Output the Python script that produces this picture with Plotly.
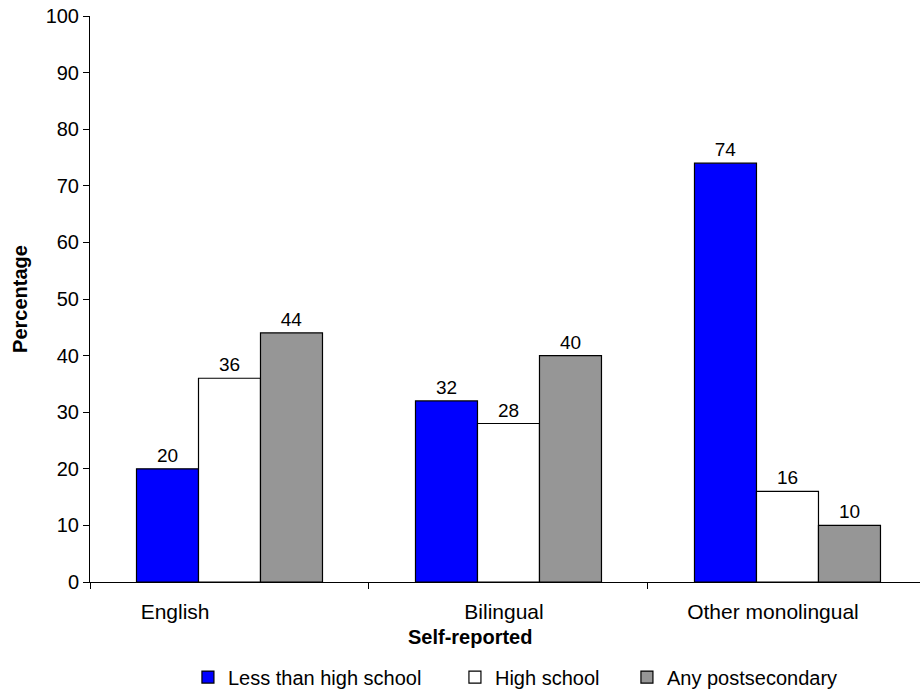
import plotly.graph_objects as go

# Language groups (self-reported) and share of each education level, in percent
categories = ["English", "Bilingual", "Other monolingual"]
less_than_high_school = [20, 32, 74]
high_school = [36, 28, 16]
any_postsecondary = [44, 40, 10]

series_names = ["Less than high school", "High school", "Any postsecondary"]
series_colors = ["#0000FF", "#FFFFFF", "#969696"]
series_values = [less_than_high_school, high_school, any_postsecondary]
legend_widths = [222, 127, None]

y_ticks = list(range(0, 101, 10))

# Category label positions along the numeric x scale (groups sit at 0, 1, 2)
label_positions = [-0.195, 0.984, 1.948]
divider_positions = [-0.5, 0.5, 1.5, 2.5]

FONT = "Liberation Sans, Arial, Helvetica, sans-serif"

fig = go.Figure()
x_idx = list(range(len(categories)))
for name, color, vals, lw in zip(series_names, series_colors, series_values, legend_widths):
    fig.add_trace(go.Bar(
        x=x_idx, y=vals, name=name,
        marker=dict(color=color, line=dict(color="black", width=1.2)),
        text=vals, texttemplate="%{y}", textposition="outside",
        textfont=dict(size=19, color="black", family=FONT),
        cliponaxis=False,
        legendwidth=lw,
    ))

# Invisible carrier so the category-label axis gets drawn
fig.add_trace(go.Scatter(
    x=label_positions, y=[0] * len(label_positions), xaxis="x2", yaxis="y",
    mode="markers", marker=dict(opacity=0), showlegend=False, hoverinfo="skip",
))

fig.update_layout(
    width=920, height=690,
    margin=dict(l=90, r=0, t=16, b=108, autoexpand=False),
    paper_bgcolor="white", plot_bgcolor="white",
    font=dict(family=FONT, size=20, color="black"),
    barmode="group", bargap=1/3, bargroupgap=0,
    showlegend=True,
    legend=dict(
        orientation="h", x=0.118, xanchor="left", y=-0.168, yanchor="middle",
        bgcolor="rgba(0,0,0,0)", font=dict(size=20, family=FONT, color="black"),
        traceorder="normal",
    ),
    xaxis=dict(
        range=[-0.5, 2.475], tickvals=divider_positions, ticktext=[""] * 4,
        ticks="outside", ticklen=6, tickcolor="black",
        showline=True, linecolor="black", linewidth=1,
        showgrid=False, zeroline=False,
    ),
    xaxis2=dict(
        overlaying="x", anchor="y", side="bottom", matches="x",
        tickvals=label_positions, ticktext=categories, ticks="",
        showline=False, showgrid=False, zeroline=False,
        tickfont=dict(size=21, family=FONT, color="black"),
        ticklabelstandoff=15,
    ),
    yaxis=dict(
        range=[0, 100], tickvals=y_ticks,
        ticks="outside", ticklen=6, tickcolor="black",
        showline=True, linecolor="black", linewidth=1,
        showgrid=False, zeroline=False,
        tickfont=dict(size=20, family=FONT, color="black"),
        title=dict(text="<b>Percentage</b>", standoff=12,
                   font=dict(size=20, family=FONT, color="black")),
    ),
    annotations=[dict(
        text="<b>Self-reported</b>", xref="x", yref="paper",
        x=-0.5 + (470 - 90) / 279, y=-0.097, xanchor="center", yanchor="middle",
        showarrow=False, font=dict(size=20, family=FONT, color="black"),
    )],
)

fig.write_html("out.html")
